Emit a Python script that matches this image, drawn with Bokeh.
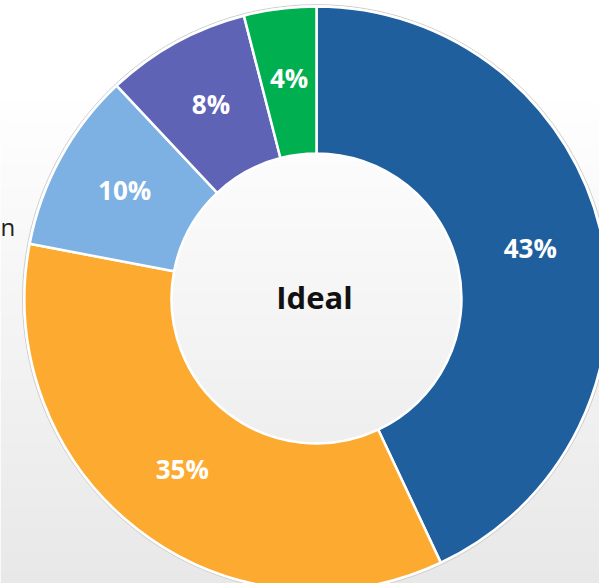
import math
import numpy as np
from bokeh.plotting import figure
from bokeh.models import ColumnDataSource, Range1d
from bokeh.core.properties import value
from bokeh.embed import file_html
from bokeh.resources import INLINE

categories = ["A", "B", "C", "D", "E"]
shares = [43, 35, 10, 8, 4]
colors = ["#1F5F9E", "#FDAA31", "#7DB1E3", "#5F63B5", "#00B050"]
center_label = "Ideal"
side_label = "n"

W, H = 599, 583
# reference pixel center of the donut at (316, 298)
cx, cy = 316, 298
x0, x1 = -cx, W - cx
ytop = cy
ybot = ytop - H

p = figure(width=W, height=H, output_backend="svg", toolbar_location=None,
           x_range=Range1d(x0, x1), y_range=Range1d(ybot, ytop),
           min_border=0)
p.axis.visible = False
p.grid.visible = False
p.outline_line_color = None
p.background_fill_color = "white"
p.border_fill_color = "white"

# background gradient (white at top -> light gray at bottom)
n = 200
rows = np.zeros((n, 1), dtype=np.uint32)
view = rows.view(dtype=np.uint8).reshape((n, 1, 4))
for i in range(n):
    frac = i / (n - 1)  # 0 bottom, 1 top
    yref = 583 - frac * 583
    t = max(0.0, min(1.0, (yref - 90) / (583 - 90)))
    g = int(round(255 - t * (255 - 232)))
    view[i, 0, 0] = g
    view[i, 0, 1] = g
    view[i, 0, 2] = g
    view[i, 0, 3] = 255
p.image_rgba(image=[rows], x=-cx, y=cy - 583, dw=W, dh=583)

total = sum(shares)
starts, ends, lx, ly, labels = [], [], [], [], []
cum = 0
for s in shares:
    a0 = math.pi / 2 - 2 * math.pi * cum / total
    a1 = math.pi / 2 - 2 * math.pi * (cum + s) / total
    mid = math.pi / 2 - 2 * math.pi * (cum + s / 2) / total
    starts.append(a0)
    ends.append(a1)
    lx.append(219 * math.cos(mid))
    ly.append(219 * math.sin(mid))
    labels.append(f"{s}%")
    cum += s

src = ColumnDataSource(dict(cat=categories, start=starts, end=ends, color=colors,
                            lx=lx, ly=ly, label=labels))

p.circle(x=[0], y=[0], radius=294, fill_color=None, line_color="#cfcfcf", line_width=1)
p.annular_wedge(x=0, y=0, inner_radius=145, outer_radius=292,
                start_angle="start", end_angle="end", direction="clock",
                fill_color="color", line_color="white", line_width=2.5, source=src)

p.text(x="lx", y="ly", text="label", source=src, text_color="white",
       text_font=value("Open Sans"), text_font_style="bold", text_font_size="26px",
       text_align="center", text_baseline="middle", y_offset=-3)

p.text(x=[-2], y=[0], text=[center_label], text_color="#111111",
       text_font=value("Open Sans"), text_font_style="bold", text_font_size="31px",
       text_align="center", text_baseline="middle", y_offset=-2)

p.text(x=[-cx], y=[cy - 228], text=[side_label], text_color="#222222",
       text_font=value("Open Sans"), text_font_size="24px",
       text_align="left", text_baseline="middle", y_offset=-2)

open("out.html", "w").write(file_html(p, INLINE))
